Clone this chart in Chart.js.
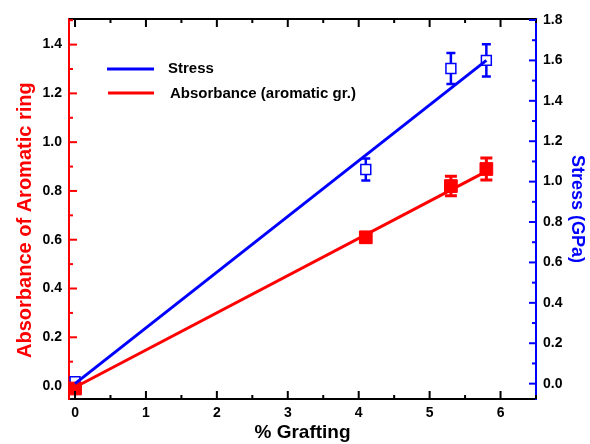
<!DOCTYPE html>
<html>
<head>
<meta charset="utf-8">
<script src="https://cdn.jsdelivr.net/npm/chart.js@4/dist/chart.umd.min.js"></script>
<style>
  body { margin: 0; background: #fff; }
  #wrap { width: 590px; height: 444px; }
</style>
</head>
<body>
<div id="wrap"><canvas id="chart" width="590" height="444"></canvas></div>
<script>
// data
const grafting = [0, 4.1, 5.3, 5.8];
const absorbance = [-0.01, 0.61, 0.82, 0.89];
const absorbanceErr = [0.01, 0.02, 0.04, 0.045];
const stress = [0.01, 1.06, 1.56, 1.60];
const stressErr = [0, 0.055, 0.077, 0.08];

// fitted lines (end points)
const fitX = [0, 5.8];
const absorbanceFit = [-0.005, 0.88];
const stressFit = [0.0, 1.60];

const xTicks = [0, 1, 2, 3, 4, 5, 6];

const FONT = 'Liberation Sans, Arial, sans-serif';
const RED = '#ff0000';
const BLUE = '#0000ff';

const toPoints = (xs, ys) => xs.map((x, i) => ({ x: x, y: ys[i] }));

// error bars, drawn under the markers
const errorBars = {
    id: 'errorBars',
    beforeDatasetsDraw(chart) {
        const ctx = chart.ctx;
        const xs = chart.scales.x;
        chart.data.datasets.forEach((ds) => {
            if (!ds.err) return;
            const ys = chart.scales[ds.yAxisID];
            ctx.save();
            ctx.strokeStyle = ds.borderColor;
            ctx.lineWidth = ds.errWidth;
            ds.data.forEach((p, i) => {
                const e = ds.err[i];
                if (!e) return;
                const px = xs.getPixelForValue(p.x);
                const top = ys.getPixelForValue(p.y + e);
                const bot = ys.getPixelForValue(p.y - e);
                const cap = ds.capHalf;
                ctx.beginPath();
                ctx.moveTo(px, top); ctx.lineTo(px, bot);
                ctx.moveTo(px - cap, top); ctx.lineTo(px + cap, top);
                ctx.moveTo(px - cap, bot); ctx.lineTo(px + cap, bot);
                ctx.stroke();
            });
            ctx.restore();
        });
    }
};

// inward tick marks, top frame line and legend
const frame = {
    id: 'frame',
    afterDraw(chart) {
        const ctx = chart.ctx;
        const a = chart.chartArea;
        const x = chart.scales.x, yL = chart.scales.y, yR = chart.scales.y2;
        ctx.save();
        ctx.lineWidth = 2;

        // top frame
        ctx.strokeStyle = '#000';
        ctx.beginPath();
        ctx.moveTo(a.left, a.top); ctx.lineTo(a.right, a.top);
        ctx.stroke();

        // x ticks (bottom and top)
        for (let v = 0; v <= x.max; v += 0.5) {
            const px = x.getPixelForValue(v);
            const len = Number.isInteger(v) ? 8 : 4;
            ctx.beginPath();
            ctx.moveTo(px, a.bottom); ctx.lineTo(px, a.bottom - len);
            ctx.moveTo(px, a.top); ctx.lineTo(px, a.top + len);
            ctx.stroke();
        }

        // left axis ticks
        ctx.strokeStyle = RED;
        for (let i = 0; i <= 15; i++) {
            const v = i / 10;
            if (v > yL.max) break;
            const py = yL.getPixelForValue(v);
            const len = i % 2 === 0 ? 8 : 4;
            ctx.beginPath();
            ctx.moveTo(a.left, py); ctx.lineTo(a.left + len, py);
            ctx.stroke();
        }

        // right axis ticks
        ctx.strokeStyle = BLUE;
        for (let i = 0; i <= 18; i++) {
            const v = i / 10;
            if (v > yR.max + 0.001) break;
            const py = yR.getPixelForValue(v);
            const len = i % 2 === 0 ? 7 : 4;
            ctx.beginPath();
            ctx.moveTo(a.right, py); ctx.lineTo(a.right - len, py);
            ctx.stroke();
        }

        // legend
        ctx.lineWidth = 3;
        ctx.strokeStyle = BLUE;
        ctx.beginPath(); ctx.moveTo(107, 69); ctx.lineTo(154, 69); ctx.stroke();
        ctx.strokeStyle = RED;
        ctx.beginPath(); ctx.moveTo(108, 93); ctx.lineTo(154, 93); ctx.stroke();
        ctx.fillStyle = '#000';
        ctx.font = 'bold 15px ' + FONT;
        ctx.textBaseline = 'middle';
        ctx.fillText('Stress', 168, 69);
        ctx.fillText('Absorbance (aromatic gr.)', 170, 94);
        ctx.restore();
    }
};

new Chart(document.getElementById('chart'), {
    type: 'scatter',
    data: {
        datasets: [
            {
                label: 'Absorbance fit',
                data: toPoints(fitX, absorbanceFit),
                yAxisID: 'y',
                showLine: true,
                borderColor: RED,
                borderWidth: 3,
                pointRadius: 0
            },
            {
                label: 'Stress fit',
                data: toPoints(fitX, stressFit),
                yAxisID: 'y2',
                showLine: true,
                borderColor: BLUE,
                borderWidth: 3,
                pointRadius: 0
            },
            {
                label: 'Absorbance (aromatic gr.)',
                data: toPoints(grafting, absorbance),
                err: absorbanceErr,
                errWidth: 3,
                capHalf: 6,
                yAxisID: 'y',
                pointStyle: 'rect',
                pointRadius: 9,
                backgroundColor: RED,
                borderColor: RED,
                borderWidth: 1
            },
            {
                label: 'Stress',
                data: toPoints(grafting, stress),
                err: stressErr,
                errWidth: 2.5,
                capHalf: 4.5,
                yAxisID: 'y2',
                pointStyle: 'rect',
                pointRadius: 7,
                backgroundColor: '#fff',
                borderColor: BLUE,
                borderWidth: 1.5
            }
        ]
    },
    options: {
        responsive: false,
        animation: false,
        layout: { padding: { top: 19, left: 0, right: 0, bottom: 0 } },
        plugins: {
            legend: { display: false },
            tooltip: { enabled: false }
        },
        scales: {
            x: {
                type: 'linear',
                position: 'bottom',
                min: -0.085,
                max: 6.5,
                afterFit: (s) => { s.height = 45; },
                afterBuildTicks: (s) => { s.ticks = xTicks.map(v => ({ value: v })); },
                grid: { display: false, drawTicks: false },
                border: { display: true, color: '#000', width: 2 },
                ticks: {
                    padding: 6,
                    color: '#000',
                    font: { family: FONT, size: 14, weight: 'bold' }
                },
                title: {
                    display: true,
                    text: '% Grafting',
                    color: '#000',
                    padding: { top: 0, bottom: 0 },
                    font: { family: FONT, size: 19, weight: 'bold' }
                }
            },
            y: {
                type: 'linear',
                position: 'left',
                min: -0.053,
                max: 1.505,
                afterFit: (s) => { s.width = 69; },
                grid: { display: false, drawTicks: false },
                border: { display: true, color: RED, width: 2 },
                ticks: {
                    stepSize: 0.2,
                    includeBounds: false,
                    padding: 7,
                    color: '#000',
                    font: { family: FONT, size: 14, weight: 'bold' },
                    callback: (v) => v.toFixed(1)
                },
                title: {
                    display: true,
                    // trailing spaces nudge the rotated title down a little
                    text: 'Absorbance of Aromatic ring    ',
                    color: RED,
                    padding: { top: 13, bottom: 0 },
                    font: { family: FONT, size: 20, weight: 'bold' }
                }
            },
            y2: {
                type: 'linear',
                position: 'right',
                min: -0.076,
                max: 1.805,
                afterFit: (s) => { s.width = 54; },
                grid: { display: false, drawTicks: false },
                border: { display: true, color: BLUE, width: 2 },
                ticks: {
                    stepSize: 0.2,
                    includeBounds: false,
                    padding: 7,
                    color: '#000',
                    font: { family: FONT, size: 14, weight: 'bold' },
                    callback: (v) => v.toFixed(1)
                },
                title: {
                    display: true,
                    text: 'Stress (GPa)',
                    color: BLUE,
                    padding: { top: 2, bottom: 0 },
                    font: { family: FONT, size: 18, weight: 'bold' }
                }
            }
        }
    },
    plugins: [errorBars, frame]
});
</script>
</body>
</html>
